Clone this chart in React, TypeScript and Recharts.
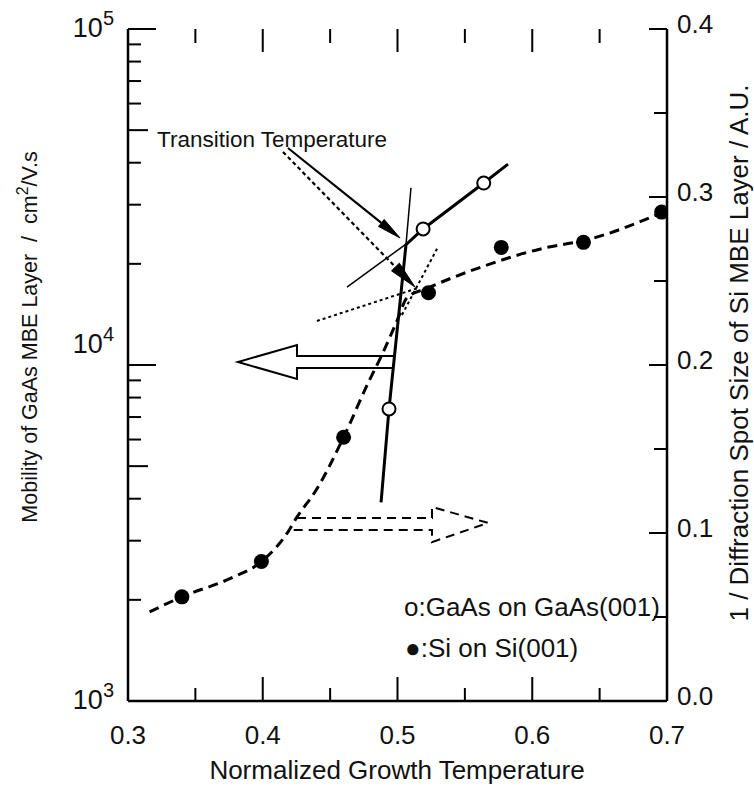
import React from "react";
import {
  ComposedChart,
  Line,
  Scatter,
  XAxis,
  YAxis,
  ReferenceLine,
} from "recharts";

// x ticks (normalized growth temperature)
const xDomain = [0.3, 0.7];
const xTicks = [0.3, 0.35, 0.4, 0.45, 0.5, 0.55, 0.6, 0.65, 0.7];
const xLabels = [0.3, 0.4, 0.5, 0.6, 0.7];

// left axis: mobility, log scale
const mobilityTicks = [
  1000, 2000, 3000, 4000, 5000, 6000, 7000, 8000, 9000,
  10000, 20000, 30000, 40000, 50000, 60000, 70000, 80000, 90000, 100000,
];

// right axis: 1 / diffraction spot size
const spotTicks = [0, 0.05, 0.1, 0.15, 0.2, 0.25, 0.3, 0.35, 0.4];

// GaAs on GaAs(001): mobility
const gaasPoints = [
  { x: 0.4937, y: 7400 },
  { x: 0.519, y: 25400 },
  { x: 0.564, y: 34800 },
];
const gaasCurve = [
  { x: 0.4878, y: 3900 },
  { x: 0.4937, y: 7400 },
  { x: 0.5063, y: 22800 },
  { x: 0.519, y: 25400 },
  { x: 0.564, y: 34800 },
  { x: 0.582, y: 39600 },
];

// Si on Si(001): 1 / spot size
const siPoints = [
  { x: 0.34, y: 0.062 },
  { x: 0.399, y: 0.083 },
  { x: 0.46, y: 0.157 },
  { x: 0.523, y: 0.243 },
  { x: 0.577, y: 0.27 },
  { x: 0.638, y: 0.273 },
  { x: 0.696, y: 0.291 },
];
const siCurve = [
  { x: 0.316, y: 0.053 },
  { x: 0.34, y: 0.062 },
  { x: 0.376, y: 0.073 },
  { x: 0.399, y: 0.083 },
  { x: 0.419, y: 0.101 },
  { x: 0.425, y: 0.109 },
  { x: 0.44, y: 0.126 },
  { x: 0.46, y: 0.157 },
  { x: 0.478, y: 0.189 },
  { x: 0.489, y: 0.207 },
  { x: 0.5, y: 0.227 },
  { x: 0.507, y: 0.24 },
  { x: 0.523, y: 0.246 },
  { x: 0.561, y: 0.258 },
  { x: 0.611, y: 0.27 },
  { x: 0.638, y: 0.274 },
  { x: 0.7, y: 0.292 },
];

// tangent lines at the transition
const gaasTangentSteep = [
  { x: 0.5063, y: 22800 },
  { x: 0.51, y: 33650 },
];
const gaasTangentFlat = [
  { x: 0.4625, y: 17060 },
  { x: 0.5063, y: 22900 },
];
const siTangentFlat = [
  { x: 0.4402, y: 0.2262 },
  { x: 0.5152, y: 0.2458 },
];
const siTangentSteep = [
  { x: 0.5033, y: 0.2298 },
  { x: 0.53, y: 0.2702 },
];

// axis arrows
const leftArrow = [
  { x: 0.4967, y: 10640 },
  { x: 0.4254, y: 10640 },
  { x: 0.4254, y: 11470 },
  { x: 0.3816, y: 10210 },
  { x: 0.4254, y: 9085 },
  { x: 0.4254, y: 9800 },
  { x: 0.4959, y: 9800 },
];
const rightArrow = [
  { x: 0.4254, y: 0.1089 },
  { x: 0.5256, y: 0.1089 },
  { x: 0.5256, y: 0.1155 },
  { x: 0.5672, y: 0.106 },
  { x: 0.5256, y: 0.0946 },
  { x: 0.5256, y: 0.1018 },
  { x: 0.4202, y: 0.1018 },
];

// "Transition Temperature" pointers
const gaasPointer = [
  { x: 0.4187, y: 44240 },
  { x: 0.5019, y: 23880 },
];
const siPointer = [
  { x: 0.415, y: 0.3268 },
  { x: 0.513, y: 0.2464 },
];

const FONT = "'Liberation Sans', Arial, Helvetica, sans-serif";

const near = (a: number, b: number) => Math.abs(a - b) < 1e-9;
const isMajorX = (v: number) => xLabels.some((l) => near(l, v));

const BottomTick = (props: any) => {
  const { x, y, payload } = props;
  const v = payload.value;
  if (!isMajorX(v)) return <g />;
  return (
    <text x={x} y={y + 43} textAnchor="middle" fontSize={26} fontFamily={FONT} fill="#111">
      {v.toFixed(1)}
    </text>
  );
};

const LeftTick = (props: any) => {
  const { x, y, payload } = props;
  const lg = Math.log10(payload.value);
  const exp = Math.round(lg);
  if (Math.abs(lg - exp) > 1e-6) return <g />;
  return (
    <text
      x={x - 14}
      y={y + (exp === 4 ? -12 : 8)}
      textAnchor="end"
      fontSize={27}
      fontFamily={FONT}
      fill="#111"
    >
      10
      <tspan dy={-12} fontSize={20}>
        {exp}
      </tspan>
    </text>
  );
};

const RightTick = (props: any) => {
  const { x, y, payload } = props;
  const v = payload.value;
  if (!near(Math.round(v * 10) / 10, v)) return <g />;
  return (
    <text x={x + 10} y={y + 4} textAnchor="start" fontSize={26} fontFamily={FONT} fill="#111">
      {v.toFixed(1)}
    </text>
  );
};

// inward tick marks, drawn from reference lines so they sit inside the frame
const leftTickLen = (v: number) => {
  const lg = Math.log10(v);
  if (Math.abs(lg - Math.round(lg)) < 1e-6) return 28;
  const m = v / Math.pow(10, Math.floor(lg + 1e-9));
  return Math.abs(m - 5) < 1e-6 ? 20 : 13;
};

const hTick = (side: "L" | "R", len: number) =>
  function HTick(props: any) {
    const { x1, x2, y1 } = props;
    const x0 = side === "L" ? Math.min(x1, x2) : Math.max(x1, x2);
    const xe = side === "L" ? x0 + len : x0 - len;
    return <line x1={x0} x2={xe} y1={y1} y2={y1} stroke="#000" strokeWidth={2} />;
  };

const topTick = (len: number) =>
  function TopTick(props: any) {
    const { x1, y1, y2 } = props;
    const yt = Math.min(y1, y2);
    return <line x1={x1} x2={x1} y1={yt} y2={yt + len} stroke="#000" strokeWidth={2} />;
  };

// bottom edge: the reference line at the lowest mobility spans the plot width,
// the linear x ticks are placed along it
const BottomEdgeTicks = (props: any) => {
  const { x1, x2, y1 } = props;
  const xl = Math.min(x1, x2);
  const xr = Math.max(x1, x2);
  return (
    <g>
      {xTicks.map((v) => {
        const px = xl + ((v - xDomain[0]) / (xDomain[1] - xDomain[0])) * (xr - xl);
        return (
          <line
            key={v}
            x1={px}
            x2={px}
            y1={y1}
            y2={y1 - (isMajorX(v) ? 24 : 13)}
            stroke="#000"
            strokeWidth={2}
          />
        );
      })}
    </g>
  );
};

const arrowShape = (dash: string | undefined, headLen: number, headHalf: number) =>
  function ArrowLine(props: any) {
    const { x1, y1, x2, y2 } = props;
    const a = Math.atan2(y2 - y1, x2 - x1);
    const bx = x2 - headLen * Math.cos(a);
    const by = y2 - headLen * Math.sin(a);
    const px = -Math.sin(a) * headHalf;
    const py = Math.cos(a) * headHalf;
    return (
      <g>
        <line x1={x1} y1={y1} x2={bx} y2={by} stroke="#000" strokeWidth={2.2} strokeDasharray={dash} />
        <polygon
          points={`${x2},${y2} ${bx + px},${by + py} ${bx - px},${by - py}`}
          fill="#000"
          stroke="#000"
          strokeWidth={1}
        />
      </g>
    );
  };

const FilledDot = (props: any) => <circle cx={props.cx} cy={props.cy} r={7.5} fill="#000" />;
const OpenDot = (props: any) => (
  <circle cx={props.cx} cy={props.cy} r={6.5} fill="#fff" stroke="#000" strokeWidth={2} />
);

export default function App() {
  return (
    <div style={{ position: "absolute", left: 0, top: 0, width: 754, height: 788, background: "#fff" }}>
      <ComposedChart width={754} height={788} margin={{ top: 29, right: 0, bottom: 0, left: 0 }}>
        <XAxis
          xAxisId="b"
          dataKey="x"
          type="number"
          domain={xDomain}
          ticks={xTicks}
          interval={0}
          allowDataOverflow
          height={87}
          tickSize={0}
          tickMargin={0}
          tick={<BottomTick />}
          axisLine={{ stroke: "#000", strokeWidth: 2.5 }}
          tickLine={false}
        />
        <XAxis
          xAxisId="t"
          orientation="top"
          dataKey="x"
          type="number"
          domain={xDomain}
          allowDataOverflow
          height={0}
          tick={false}
          axisLine={{ stroke: "#000", strokeWidth: 2.5 }}
          tickLine={false}
        />
        <YAxis
          yAxisId="L"
          scale="log"
          type="number"
          domain={[1000, 100000]}
          ticks={mobilityTicks}
          interval={0}
          allowDataOverflow
          width={128}
          tickSize={0}
          tickMargin={0}
          tick={<LeftTick />}
          axisLine={{ stroke: "#000", strokeWidth: 2.5 }}
          tickLine={false}
        />
        <YAxis
          yAxisId="R"
          orientation="right"
          type="number"
          domain={[0, 0.4]}
          ticks={spotTicks}
          interval={0}
          allowDataOverflow
          width={87}
          tickSize={0}
          tickMargin={0}
          tick={<RightTick />}
          axisLine={{ stroke: "#000", strokeWidth: 2.5 }}
          tickLine={false}
        />

        {/* inward tick marks */}
        {mobilityTicks.map((v) => (
          <ReferenceLine key={`l${v}`} xAxisId="b" yAxisId="L" y={v} shape={hTick("L", leftTickLen(v))} />
        ))}
        {spotTicks.map((v) => (
          <ReferenceLine
            key={`r${v}`}
            xAxisId="b"
            yAxisId="R"
            y={v}
            shape={hTick("R", near(Math.round(v * 10) / 10, v) ? 18 : 13)}
          />
        ))}
        {xTicks.map((v) => (
          <ReferenceLine
            key={`xt${v}`}
            xAxisId="b"
            yAxisId="R"
            x={v}
            shape={topTick(isMajorX(v) ? 23 : 14)}
          />
        ))}
        <ReferenceLine
          xAxisId="b"
          yAxisId="L"
          y={mobilityTicks[0]}
          ifOverflow="visible"
          shape={BottomEdgeTicks}
        />

        {/* tangents */}
        <Line xAxisId="b" yAxisId="L" data={gaasTangentSteep} dataKey="y" stroke="#000" strokeWidth={1.5} dot={false} isAnimationActive={false} />
        <Line xAxisId="b" yAxisId="L" data={gaasTangentFlat} dataKey="y" stroke="#000" strokeWidth={1.5} dot={false} isAnimationActive={false} />
        <Line xAxisId="b" yAxisId="R" data={siTangentFlat} dataKey="y" stroke="#000" strokeWidth={2} strokeDasharray="3 3" dot={false} isAnimationActive={false} />
        <Line xAxisId="b" yAxisId="R" data={siTangentSteep} dataKey="y" stroke="#000" strokeWidth={2} strokeDasharray="3 3" dot={false} isAnimationActive={false} />

        {/* axis arrows */}
        <Line xAxisId="b" yAxisId="L" data={leftArrow} dataKey="y" stroke="#000" strokeWidth={2} dot={false} isAnimationActive={false} />
        <Line xAxisId="b" yAxisId="R" data={rightArrow} dataKey="y" stroke="#000" strokeWidth={2} strokeDasharray="9 6" dot={false} isAnimationActive={false} />

        {/* fitted curves */}
        <Line xAxisId="b" yAxisId="R" type="monotone" data={siCurve} dataKey="y" stroke="#000" strokeWidth={3} strokeDasharray="10 6" dot={false} isAnimationActive={false} />
        <Line xAxisId="b" yAxisId="L" type="linear" data={gaasCurve} dataKey="y" stroke="#000" strokeWidth={3} dot={false} isAnimationActive={false} />

        {/* pointers */}
        <ReferenceLine xAxisId="b" yAxisId="L" segment={gaasPointer} shape={arrowShape(undefined, 24, 4.5)} />
        <ReferenceLine xAxisId="b" yAxisId="R" segment={siPointer} shape={arrowShape("4 3", 28, 5.5)} />

        <Scatter xAxisId="b" yAxisId="R" data={siPoints} dataKey="y" shape={<FilledDot />} isAnimationActive={false} />
        <Scatter xAxisId="b" yAxisId="L" data={gaasPoints} dataKey="y" shape={<OpenDot />} isAnimationActive={false} />

        <text x={157} y={147} fontSize={22.5} fontFamily={FONT} fill="#111">
          Transition Temperature
        </text>
        <text x={404} y={616} fontSize={26} fontFamily={FONT} fill="#111">
          o:GaAs on GaAs(001)
        </text>
        <text x={405} y={657} fontSize={26} fontFamily={FONT} fill="#111">
          ●:Si on Si(001)
        </text>
        <text x={397} y={779} textAnchor="middle" fontSize={26} fontFamily={FONT} fill="#111">
          Normalized Growth Temperature
        </text>
        <text
          x={37}
          y={337}
          textAnchor="middle"
          fontSize={21.5}
          fontFamily={FONT}
          fill="#111"
          transform="rotate(-90 37 337)"
        >
          {"Mobility of GaAs MBE Layer\u00a0\u00a0/\u00a0\u00a0cm"}
          <tspan dy={-9} fontSize={16}>2</tspan>
          <tspan dy={9}>/V.s</tspan>
        </text>
        <text
          x={748}
          y={353}
          textAnchor="middle"
          fontSize={26}
          fontFamily={FONT}
          fill="#111"
          transform="rotate(-90 748 353)"
        >
          1 / Diffraction Spot Size of Si MBE Layer / A.U.
        </text>
      </ComposedChart>
    </div>
  );
}
